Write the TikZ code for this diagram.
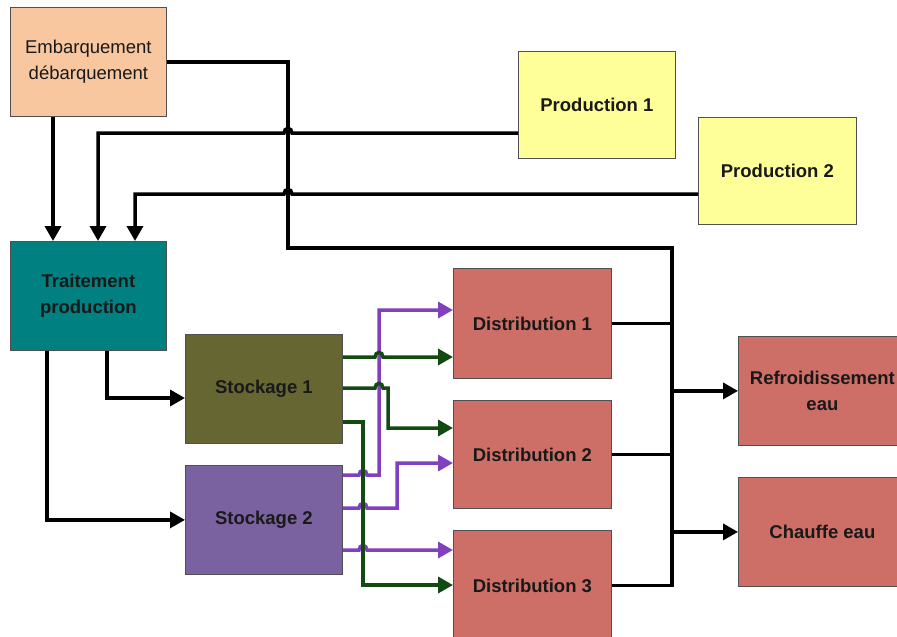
\documentclass[tikz,border=0pt]{standalone}
\usepackage{fontspec}
\setmainfont{Liberation Sans}
\usetikzlibrary{arrows.meta}
\definecolor{cEmb}{HTML}{F9C79F}
\definecolor{cProd}{HTML}{FFFF99}
\definecolor{cTrait}{HTML}{008080}
\definecolor{cStockA}{HTML}{666633}
\definecolor{cStockB}{HTML}{7A619F}
\definecolor{cDist}{HTML}{CD6F67}
\definecolor{cGreen}{HTML}{124A12}
\definecolor{cPurple}{HTML}{8040BF}
\definecolor{cBorder}{HTML}{505050}
\tikzset{
  box/.style={draw=cBorder, line width=0.8pt, anchor=north west, inner sep=0pt,
    align=center, text=black!90, font=\fontsize{18.5}{26}\selectfont\bfseries},
  wire/.style={line width=3.5pt, line join=miter, black},
  arr/.style={wire, -{Triangle[length=15pt,width=16pt]}},
  gwire/.style={wire, cGreen},
  garr/.style={gwire, -{Triangle[length=15pt,width=16pt]}},
  pwire/.style={wire, cPurple},
  parr/.style={pwire, -{Triangle[length=15pt,width=16pt]}}
}
\begin{document}
\begin{tikzpicture}[x=1pt,y=-1pt]
\clip (0,0) rectangle (897,637);
\fill[white] (0,0) rectangle (897,637);
% boxes
\node[box, fill=cEmb, minimum width=156pt, minimum height=109pt, font=\fontsize{18.5}{26}\selectfont] (emb) at (10,7) {Embarquement\\débarquement};
\node[box, fill=cProd, minimum width=157pt, minimum height=107pt] (prod1) at (518,51) {Production 1};
\node[box, fill=cProd, minimum width=158pt, minimum height=107pt] (prod2) at (698,117) {Production 2};
\node[box, fill=cTrait, minimum width=156pt, minimum height=109pt] (trait) at (10,241) {Traitement\\production};
\node[box, fill=cStockA, minimum width=157pt, minimum height=109pt] (stock1) at (185,334) {Stockage 1};
\node[box, fill=cStockB, minimum width=157pt, minimum height=109pt] (stock2) at (185,465) {Stockage 2};
\node[box, fill=cDist, minimum width=158pt, minimum height=110pt] (dist1) at (453,268) {Distribution 1};
\node[box, fill=cDist, minimum width=158pt, minimum height=108pt] (dist2) at (453,400) {Distribution 2};
\node[box, fill=cDist, minimum width=158pt, minimum height=110pt] (dist3) at (453,530) {Distribution 3};
\node[box, fill=cDist, minimum width=168pt, minimum height=109pt] (refr) at (738,336) {Refroidissement\\eau};
\node[box, fill=cDist, minimum width=168pt, minimum height=109pt] (chauf) at (738,477) {Chauffe eau};
% embarquement
\draw[arr] (53,0 |- emb.south) -- (53,0 |- trait.north);
\draw[wire] (emb.east) -- (288,0 |- emb.east) -- (288,248) -- (672,248) -- (672,0 |- dist3.east) -- (dist3.east);
\draw[wire] (dist1.east) -- (672,0 |- dist1.east);
\draw[wire] (dist2.east) -- (672,0 |- dist2.east);
\draw[arr] (672,0 |- refr.west) -- (refr.west);
\draw[arr] (672,0 |- chauf.west) -- (chauf.west);
% productions
\draw[arr] (prod1.west |- 0,133) -- (292,133) .. controls (292,127) and (284,127) .. (284,133) -- (98,133) -- (98,0 |- trait.north);
\draw[arr] (prod2.west |- 0,194) -- (292,194) .. controls (292,188) and (284,188) .. (284,194) -- (135,194) -- (135,0 |- trait.north);
% traitement
\draw[arr] (107,0 |- trait.south) -- (107,398) -- (stock1.west |- 0,398);
\draw[arr] (47,0 |- trait.south) -- (47,0 |- stock2.west) -- (stock2.west);
% purple
\draw[parr] (stock2.east |- 0,475) -- (359,475) .. controls (359,469) and (367,469) .. (367,475) -- (379,475) -- (379,310) -- (dist1.west |- 0,310);
\draw[parr] (stock2.east |- 0,508) -- (359,508) .. controls (359,502) and (367,502) .. (367,508) -- (397,508) -- (397,463) -- (dist2.west |- 0,463);
\draw[parr] (stock2.east |- 0,550) -- (359,550) .. controls (359,544) and (367,544) .. (367,550) -- (dist3.west |- 0,550);
% green
\draw[garr] (stock1.east |- 0,357) -- (375,357) .. controls (375,351) and (383,351) .. (383,357) -- (dist1.west |- 0,357);
\draw[garr] (stock1.east |- 0,388) -- (375,388) .. controls (375,382) and (383,382) .. (383,388) -- (388,388) -- (388,428) -- (dist2.west |- 0,428);
\draw[garr] (stock1.east |- 0,422) -- (363,422) -- (363,585) -- (dist3.west |- 0,585);
\end{tikzpicture}
\end{document}
